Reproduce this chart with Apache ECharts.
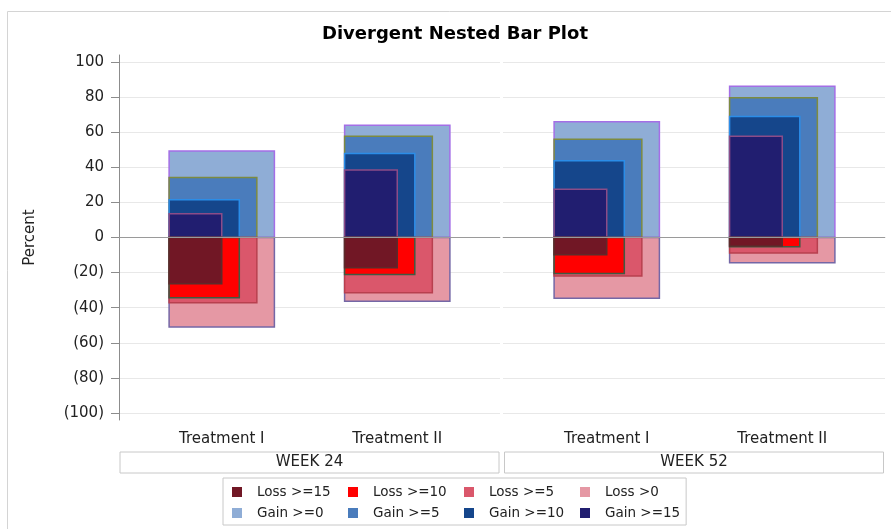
<!DOCTYPE html>
<html><head><meta charset="utf-8">
<script src="https://cdn.jsdelivr.net/npm/echarts@6/dist/echarts.min.js"></script>
<style>html,body{margin:0;padding:0;background:#fff}#c{width:891px;height:529px}</style>
</head><body><div id="c"></div>
<script>
// ---------- data ----------
const chartTitle = 'Divergent Nested Bar Plot';
const yAxisName = 'Percent';
const weeks = ['WEEK 24', 'WEEK 52'];
const treatments = ['Treatment I', 'Treatment II'];
const yTicks = [-100, -80, -60, -40, -20, 0, 20, 40, 60, 80, 100];
const legendOrder = ['Loss >=15', 'Loss >=10', 'Loss >=5', 'Loss >0', 'Gain >=0', 'Gain >=5', 'Gain >=10', 'Gain >=15'];
// values ordered: [WEEK 24 Treatment I, WEEK 24 Treatment II, WEEK 52 Treatment I, WEEK 52 Treatment II]
const gainGE0  = [49.3, 64.0, 65.9, 86.2];
const gainGE5  = [34.2, 57.7, 56.0, 79.7];
const gainGE10 = [21.5, 47.9, 43.7, 69.0];
const gainGE15 = [13.5, 38.4, 27.5, 57.7];
const lossGT0  = [-51.0, -36.3, -34.6, -14.4];
const lossGE5  = [-37.2, -31.5, -22.0, -8.9];
const lossGE10 = [-34.4, -21.1, -20.5, -5.3];
const lossGE15 = [-26.4, -17.3, -9.9, -4.9];

// ---------- styles ----------
const FONT = 'DejaVu Sans';
const levels = [
  {name: 'Gain >=0',  values: gainGE0,  fill: '#8fadd6', stroke: '#a46ee6', frac: 0.6},
  {name: 'Gain >=5',  values: gainGE5,  fill: '#4a7cbc', stroke: '#7d8b40', frac: 0.5},
  {name: 'Gain >=10', values: gainGE10, fill: '#15468b', stroke: '#2b8de8', frac: 0.4},
  {name: 'Gain >=15', values: gainGE15, fill: '#211e70', stroke: '#8c4c88', frac: 0.3},
  {name: 'Loss >0',   values: lossGT0,  fill: '#e598a4', stroke: '#7467a6', frac: 0.6},
  {name: 'Loss >=5',  values: lossGE5,  fill: '#da576b', stroke: '#b8404f', frac: 0.5},
  {name: 'Loss >=10', values: lossGE10, fill: '#ff0000', stroke: '#3f5a42', frac: 0.4},
  {name: 'Loss >=15', values: lossGE15, fill: '#711725', stroke: '#5d2a2a', frac: 0.3}
];

function makeRender(st) {
  return function (params, api) {
    const cat = api.value(0), v = api.value(1);
    const base = api.coord([cat, 0]);
    const top = api.coord([cat, v]);
    const band = api.size([1, 0])[0];
    const x = base[0] - band * 0.3;
    return {
      type: 'rect',
      shape: {x: x, y: Math.min(base[1], top[1]), width: band * st.frac, height: Math.abs(top[1] - base[1])},
      style: {fill: st.fill, stroke: st.stroke, lineWidth: 1.5}
    };
  };
}

const Y_MIN = -104, Y_MAX = 104;
const gridTop = 55, gridH = 365;
const grids = [
  {left: 119, top: gridTop, width: 381, height: gridH, outerBoundsMode: 'none'},
  {left: 503, top: gridTop, width: 382, height: gridH, outerBoundsMode: 'none'},
  {left: 134, top: gridTop, width: 351, height: gridH, outerBoundsMode: 'none'},
  {left: 519, top: gridTop, width: 351, height: gridH, outerBoundsMode: 'none'}
];

const weekAxis = (i) => ({
  type: 'category', gridIndex: i, data: [weeks[i]],
  axisLine: {show: true, lineStyle: {color: '#c8c8c8', width: 1}},
  axisTick: {show: false},
  axisLabel: {interval: 0, margin: 32, width: 379, height: 21, lineHeight: 21, align: 'center',
    verticalAlign: 'top', borderColor: '#c8c8c8', borderWidth: 1, padding: 0,
    fontFamily: FONT, fontSize: 15, color: '#222'}
});
const treatAxis = (i) => ({
  type: 'category', gridIndex: i, data: treatments,
  axisLine: {show: false}, axisTick: {show: false}, splitLine: {show: false},
  axisLabel: {interval: 0, margin: 12, fontFamily: FONT, fontSize: 15, color: '#222'}
});

const yAxes = [
  {type: 'value', gridIndex: 0, min: Y_MIN, max: Y_MAX,
   name: yAxisName, nameLocation: 'middle', nameGap: 81, nameRotate: 90,
   nameTextStyle: {fontFamily: FONT, fontSize: 15, color: '#222'},
   axisLine: {show: true, lineStyle: {color: '#8c8c8c'}},
   axisTick: {show: true, length: 8, lineStyle: {color: '#8c8c8c'}, customValues: yTicks},
   axisLabel: {margin: 15, fontFamily: FONT, fontSize: 15, color: '#222', customValues: yTicks,
     formatter: v => v < 0 ? '(' + (-v) + ')' : String(v)},
   splitLine: {show: true, lineStyle: {color: '#e8e8e8', width: 1}}},
  {type: 'value', gridIndex: 1, min: Y_MIN, max: Y_MAX,
   axisLine: {show: false}, axisTick: {show: false, customValues: yTicks},
   axisLabel: {show: false, customValues: yTicks},
   splitLine: {show: true, lineStyle: {color: '#e8e8e8', width: 1}}},
  {type: 'value', gridIndex: 2, min: Y_MIN, max: Y_MAX, show: false, splitLine: {show: false}},
  {type: 'value', gridIndex: 3, min: Y_MIN, max: Y_MAX, show: false, splitLine: {show: false}}
];

const series = [];
[0, 1].forEach(function (w) {
  levels.forEach(function (st) {
    series.push({
      type: 'custom', name: st.name, xAxisIndex: 2 + w, yAxisIndex: 2 + w,
      itemStyle: {color: st.fill},
      encode: {x: 0, y: 1},
      renderItem: makeRender(st),
      data: treatments.map((t, i) => [t, st.values[w * 2 + i]]),
      z: 2
    });
  });
  series.push({
    type: 'line', xAxisIndex: w, yAxisIndex: w, data: [], z: 10,
    markLine: {silent: true, symbol: ['none', 'none'], label: {show: false},
      lineStyle: {color: '#9a9a9a', width: 1, type: 'solid'}, data: [{yAxis: 0}]}
  });
});

const option = {
  animation: false,
  backgroundColor: '#ffffff',
  title: {text: chartTitle, left: 322, top: 25, padding: 0,
    textStyle: {fontFamily: FONT, fontWeight: 'bold', fontSize: 18, color: '#000'}},
  graphic: [{type: 'rect', silent: true, z: -10,
    shape: {x: 7.5, y: 11.5, width: 900, height: 530},
    style: {fill: 'none', stroke: '#d4d4d4', lineWidth: 1}}],
  legend: {
    left: 223, top: 478, width: 500, orient: 'horizontal', icon: 'rect',
    itemWidth: 10, itemHeight: 10, itemGap: 7, padding: [7, 6, 5, 9],
    borderColor: '#c8c8c8', borderWidth: 1, selectedMode: false,
    itemStyle: {borderWidth: 0},
    textStyle: {fontFamily: FONT, fontSize: 13.5, color: '#222', width: 84, lineHeight: 14, padding: [0, 0, 0, 10]},
    data: legendOrder.map((n, i) => (i % 4 === 3) ? {name: n, textStyle: {width: 75}} : {name: n})
  },
  grid: grids,
  xAxis: [weekAxis(0), weekAxis(1), treatAxis(2), treatAxis(3)],
  yAxis: yAxes,
  series: series
};

const chart = echarts.init(document.getElementById('c'), null, {renderer: 'canvas'});
chart.setOption(option);
</script>
</body></html>
